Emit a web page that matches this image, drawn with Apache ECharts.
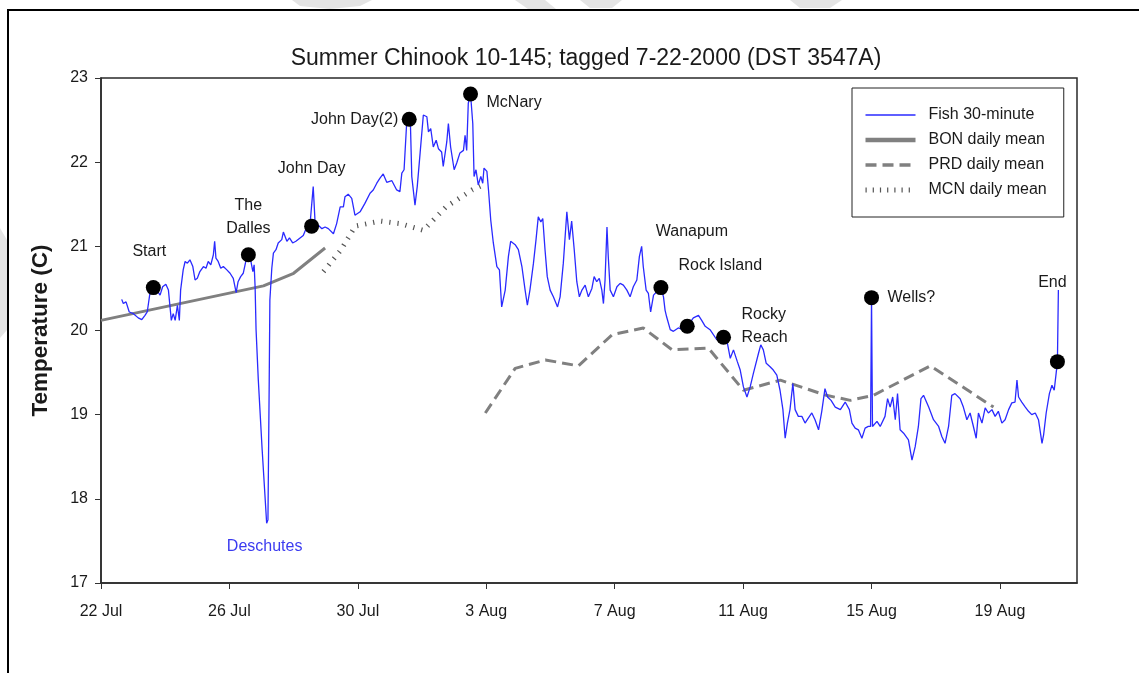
<!DOCTYPE html>
<html>
<head>
<meta charset="utf-8">
<title>Summer Chinook 10-145</title>
<script src="https://cdn.jsdelivr.net/npm/echarts@6/dist/echarts.min.js"></script>
<style>
  html, body { margin: 0; padding: 0; background: #fff; }
  #chart { width: 1139px; height: 673px; }
</style>
</head>
<body>
<div id="chart"></div>
<script>
// x values are days after 22 Jul 2000 00:00; y values are temperature in deg C

const tickLabels = ['22 Jul', '26 Jul', '30 Jul', '3 Aug', '7 Aug', '11 Aug', '15 Aug', '19 Aug'];

// Fish tag record, 30-minute readings [day, temp]
const fishTrack = [
  [0.645,20.37],[0.695,20.32],[0.78,20.34],[0.88,20.22],[1.01,20.20],[1.16,20.15],[1.27,20.13],[1.37,20.18],[1.44,20.22],[1.53,20.46],
  [1.63,20.51],[1.74,20.48],[1.84,20.42],[1.92,20.52],[2.02,20.55],[2.10,20.48],[2.15,20.28],[2.19,20.12],[2.25,20.20],[2.31,20.12],
  [2.38,20.30],[2.44,20.12],[2.48,20.48],[2.56,20.72],[2.62,20.82],[2.69,20.80],[2.77,20.84],[2.86,20.76],[2.93,20.60],[3.00,20.62],
  [3.08,20.70],[3.19,20.76],[3.27,20.74],[3.34,20.82],[3.42,20.78],[3.50,20.90],[3.54,21.06],[3.58,20.86],[3.65,20.82],[3.73,20.74],
  [3.81,20.76],[3.92,20.72],[4.02,20.68],[4.12,20.62],[4.21,20.45],[4.27,20.58],[4.35,20.64],[4.43,20.68],[4.52,20.84],[4.59,20.90],
  [4.66,20.84],[4.73,20.70],[4.77,20.78],[4.80,20.52],[4.83,20.01],[4.90,19.41],[5.02,18.58],[5.16,17.71],[5.20,17.75],[5.22,18.58],
  [5.24,19.41],[5.26,20.36],[5.32,20.74],[5.37,20.92],[5.45,20.96],[5.52,21.04],[5.63,21.08],[5.68,21.17],[5.79,21.06],[5.87,21.10],
  [5.97,21.04],[6.07,21.06],[6.20,21.10],[6.30,21.13],[6.41,21.23],[6.51,21.26],[6.57,21.24],[6.61,21.71],[6.67,21.27],[6.77,21.25],
  [6.88,21.21],[6.98,21.23],[7.08,21.21],[7.24,21.15],[7.34,21.27],[7.45,21.47],[7.55,21.47],[7.60,21.59],[7.70,21.62],[7.81,21.57],
  [7.91,21.37],[8.07,21.41],[8.22,21.51],[8.38,21.63],[8.48,21.67],[8.59,21.75],[8.69,21.81],[8.79,21.86],[8.90,21.76],[9.06,21.78],
  [9.21,21.67],[9.31,21.65],[9.37,21.87],[9.44,21.91],[9.52,22.46],[9.60,22.51],[9.64,22.42],[9.68,21.83],[9.78,21.49],[9.85,21.71],
  [9.94,22.11],[10.04,22.56],[10.15,22.54],[10.20,22.36],[10.27,22.40],[10.35,22.18],[10.44,22.26],[10.51,22.16],[10.61,22.12],[10.66,21.95],
  [10.77,22.24],[10.82,22.46],[10.89,22.18],[11.00,21.91],[11.08,21.99],[11.18,22.11],[11.29,22.14],[11.34,22.32],[11.39,22.14],[11.44,22.70],
  [11.51,22.81],[11.58,22.46],[11.62,21.83],[11.68,21.91],[11.75,21.73],[11.83,21.83],[11.89,21.75],[11.93,21.93],[12.02,21.89],[12.07,21.67],
  [12.14,21.31],[12.22,21.04],[12.33,20.76],[12.41,20.72],[12.48,20.28],[12.59,20.48],[12.69,20.88],[12.76,21.06],[12.90,21.02],[13.00,20.96],
  [13.11,20.76],[13.21,20.48],[13.28,20.30],[13.36,20.48],[13.47,20.80],[13.55,21.08],[13.62,21.35],[13.70,21.29],[13.76,21.33],[13.83,20.96],
  [13.90,20.64],[13.99,20.48],[14.09,20.40],[14.22,20.28],[14.30,20.40],[14.40,20.80],[14.51,21.41],[14.59,21.08],[14.66,21.30],[14.74,20.96],
  [14.82,20.58],[14.90,20.40],[14.98,20.48],[15.08,20.54],[15.18,20.40],[15.29,20.50],[15.36,20.64],[15.44,20.58],[15.52,20.62],[15.60,20.48],
  [15.65,20.32],[15.70,20.60],[15.76,21.23],[15.80,20.88],[15.86,20.48],[15.96,20.40],[16.07,20.52],[16.17,20.56],[16.27,20.54],[16.38,20.48],
  [16.48,20.40],[16.58,20.52],[16.69,20.60],[16.77,20.88],[16.84,21.00],[16.89,20.76],[16.98,20.48],[17.05,20.44],[17.12,20.22],[17.21,20.42],
  [17.31,20.46],[17.44,20.51],[17.52,20.40],[17.57,20.24],[17.62,20.16],[17.73,20.01],[17.83,19.99],[17.98,20.03],[18.14,20.01],[18.26,20.05],
  [18.45,20.15],[18.61,20.18],[18.71,20.12],[18.82,20.05],[18.97,20.01],[19.18,19.89],[19.39,19.92],[19.51,19.85],[19.60,19.67],[19.70,19.77],
  [19.82,19.63],[19.91,19.53],[20.01,19.33],[20.12,19.21],[20.22,19.33],[20.32,19.49],[20.48,19.73],[20.55,19.83],[20.63,19.77],[20.72,19.61],
  [20.84,19.57],[20.94,19.53],[21.05,19.47],[21.15,19.29],[21.24,19.06],[21.31,18.72],[21.38,18.90],[21.46,19.06],[21.55,19.37],[21.62,19.06],
  [21.72,18.98],[21.83,18.98],[21.93,18.90],[22.03,18.96],[22.14,19.02],[22.24,18.94],[22.35,18.82],[22.45,19.04],[22.55,19.31],[22.63,19.21],
  [22.74,19.17],[22.87,19.09],[23.03,19.06],[23.18,19.15],[23.31,19.06],[23.39,18.90],[23.49,18.84],[23.59,18.82],[23.70,18.72],[23.80,18.84],
  [23.90,18.86],[23.97,18.86],[24.00,20.39],[24.03,18.86],[24.17,18.92],[24.27,18.86],[24.42,18.98],[24.50,19.19],[24.58,19.09],[24.66,19.21],
  [24.74,18.94],[24.81,19.25],[24.89,18.82],[25.00,18.78],[25.15,18.70],[25.26,18.46],[25.36,18.62],[25.46,18.86],[25.54,19.19],[25.62,19.23],
  [25.78,19.09],[25.93,18.94],[26.09,18.86],[26.19,18.74],[26.29,18.66],[26.40,18.86],[26.50,19.23],[26.60,19.25],[26.76,19.19],[26.86,19.09],
  [26.97,18.94],[27.07,19.02],[27.16,18.88],[27.26,18.72],[27.33,19.02],[27.44,18.90],[27.54,19.08],[27.64,19.02],[27.75,19.06],[27.85,18.98],
  [27.95,19.04],[28.06,18.90],[28.16,18.94],[28.27,19.06],[28.37,19.14],[28.47,19.15],[28.53,19.41],[28.58,19.21],[28.68,19.15],[28.79,19.09],
  [28.89,19.04],[28.99,19.00],[29.10,19.02],[29.20,18.94],[29.31,18.66],[29.36,18.76],[29.44,19.02],[29.54,19.25],[29.62,19.35],[29.69,19.29],
  [29.75,19.49],[29.79,19.63],[29.82,20.48]
];

// Daily mean river temperatures at the dams [day, temp]
const bonDaily = [[0,20.12],[5.06,20.53],[6.0,20.68],[6.98,20.98]];
const prdDaily = [[11.97,19.02],[12.90,19.55],[13.84,19.65],[14.87,19.58],[15.92,19.95],[16.89,20.03],[17.79,19.77],
                  [18.92,19.79],[20.01,19.29],[21.16,19.41],[22.59,19.23],[23.34,19.17],[24.06,19.23],[25.83,19.58],[27.80,19.09]];
const mcnDaily = [[6.93,20.70],[7.48,20.96],[7.92,21.24],[8.70,21.30],[9.32,21.27],[10.04,21.19],[10.75,21.47],[11.56,21.67],[11.9,21.73]];

// Passage points along the migration
const siteNames = ['Start', 'The\nDalles', 'John Day', 'John Day(2)', 'McNary', 'Wanapum', 'Rock Island', 'Rocky\nReach', 'Wells?', 'End'];
const siteDay   = [1.63, 4.59, 6.56, 9.60, 11.51, 17.44, 18.26, 19.39, 24.00, 29.79];
const siteTemp  = [20.51, 20.90, 21.24, 22.51, 22.81, 20.51, 20.05, 19.92, 20.39, 19.63];

// Deschutes plume minimum
const deschutesName = 'Deschutes';
const deschutesPoint = [5.16, 17.71];

const FONT = '"Liberation Sans", Arial, sans-serif';
const TEXT = '#1a1a1a';

// label placement around each passage dot
const siteLabelLayout = {
  'Start':        { offset: [-4, -36] },
  'The\nDalles':  { offset: [0, -38] },
  'John Day':     { offset: [0, -58] },
  'John Day(2)':  { offset: [-11, 0], align: 'right' },
  'McNary':       { offset: [16, 9], align: 'left' },
  'Wanapum':      { offset: [31, -56] },
  'Rock Island':  { offset: [33, -61] },
  'Rocky\nReach': { offset: [18, -11], align: 'left' },
  'Wells?':       { offset: [16, 0], align: 'left' },
  'End':          { offset: [-5, -79] }
};

const siteData = siteNames.map((name, i) => {
  const lay = siteLabelLayout[name];
  return {
    name: name,
    value: [siteDay[i], siteTemp[i]],
    label: {
      show: true,
      position: 'inside',
      formatter: name,
      offset: lay.offset,
      align: lay.align || 'center',
      verticalAlign: 'middle',
      fontFamily: FONT,
      fontSize: 16,
      lineHeight: 23,
      color: TEXT
    }
  };
});

const tickValues = tickLabels.map((_, i) => i * 4);

// legend swatches, drawn a little heavier than the plotted lines
const legendSwatch = {
  'Fish 30-minute': { color: '#2a2aff', width: 1.5, type: 'solid' },
  'BON daily mean': { color: '#808080', width: 4.5, type: 'solid' },
  'PRD daily mean': { color: '#808080', width: 3.5, type: [11, 6] },
  'MCN daily mean': { color: '#555', width: 5, type: [1.2, 6] }
};

const chart = echarts.init(document.getElementById('chart'), null, { renderer: 'canvas' });

const option = {
  animation: false,
  backgroundColor: '#fff',
  textStyle: { fontFamily: FONT },
  title: {
    text: 'Summer Chinook 10-145; tagged 7-22-2000 (DST 3547A)',
    left: 581,
    top: 42,
    textAlign: 'center',
    textStyle: { fontFamily: FONT, fontSize: 23, fontWeight: 'normal', color: TEXT }
  },
  grid: {
    left: 101, right: 62, top: 78, bottom: 90,
    show: true, borderColor: '#2a2a2a', borderWidth: 1.5, backgroundColor: 'transparent'
  },
  legend: {
    orient: 'vertical',
    left: 852,
    top: 88,
    padding: [19, 17, 19, 11],
    itemGap: 9,
    itemWidth: 50,
    itemHeight: 14,
    borderColor: '#222',
    borderWidth: 1,
    backgroundColor: '#fff',
    itemStyle: { opacity: 0 },
    lineStyle: { width: 'inherit', type: 'inherit' },
    data: Object.keys(legendSwatch).map(name => ({
      name: name,
      lineStyle: {
        color: legendSwatch[name].color,
        width: legendSwatch[name].width,
        type: legendSwatch[name].type,
        cap: 'butt'
      }
    })),
    textStyle: { fontFamily: FONT, fontSize: 16, color: TEXT, padding: [0, 0, 0, 8] }
  },
  xAxis: {
    type: 'value',
    min: 0,
    max: 30.4,
    interval: 4,
    axisLine: { show: true, onZero: false, lineStyle: { color: '#2a2a2a', width: 1.5 } },
    axisTick: { show: true, length: 6, customValues: tickValues, lineStyle: { color: '#333' } },
    axisLabel: {
      customValues: tickValues,
      margin: 21,
      fontFamily: FONT, fontSize: 16, color: TEXT,
      formatter: v => tickLabels[Math.round(v / 4)] || ''
    },
    splitLine: { show: false }
  },
  yAxis: {
    type: 'value',
    min: 17,
    max: 23,
    interval: 1,
    name: 'Temperature (C)',
    nameLocation: 'middle',
    nameGap: 49,
    nameRotate: 90,
    nameTextStyle: { fontFamily: FONT, fontSize: 22.5, fontWeight: 'bold', color: TEXT },
    axisLine: { show: true, onZero: false, lineStyle: { color: '#2a2a2a', width: 1.5 } },
    axisTick: { show: true, length: 6, lineStyle: { color: '#333' } },
    axisLabel: { margin: 13, fontFamily: FONT, fontSize: 16, color: TEXT },
    splitLine: { show: false }
  },
  series: [
    {
      name: 'Fish 30-minute',
      type: 'line',
      data: fishTrack,
      symbol: 'none',
      z: 4,
      itemStyle: { color: '#2a2aff' },
      lineStyle: { color: '#2a2aff', width: 1.3 }
    },
    {
      name: 'BON daily mean',
      type: 'line',
      data: bonDaily,
      symbol: 'none',
      z: 3,
      itemStyle: { color: '#808080' },
      lineStyle: { color: '#808080', width: 3 }
    },
    {
      name: 'PRD daily mean',
      type: 'line',
      data: prdDaily,
      symbol: 'none',
      z: 3,
      itemStyle: { color: '#808080' },
      lineStyle: { color: '#808080', width: 3, type: [11, 6] }
    },
    {
      name: 'MCN daily mean',
      type: 'line',
      data: mcnDaily,
      symbol: 'none',
      z: 3,
      itemStyle: { color: '#555' },
      lineStyle: { color: '#555', width: 5, type: [1.2, 7], cap: 'butt' }
    },
    {
      name: 'sites',
      type: 'scatter',
      data: siteData,
      symbol: 'circle',
      symbolSize: 15,
      z: 6,
      itemStyle: { color: '#000', opacity: 1 }
    },
    {
      name: 'plume',
      type: 'scatter',
      data: [{
        name: deschutesName,
        value: deschutesPoint,
        label: {
          show: true, position: 'inside', offset: [-2, 23],
          formatter: deschutesName,
          fontFamily: FONT, fontSize: 16, color: '#3b3bf0'
        }
      }],
      symbolSize: 1,
      itemStyle: { color: 'rgba(0,0,0,0)', opacity: 1 },
      z: 6
    }
  ],
  graphic: [
    // faint background shapes in the outer margin
    { type: 'polygon', z: -10, shape: { points: [[292,0],[372,0],[360,6],[330,9],[300,6]] }, style: { fill: '#e4e4e4' } },
    { type: 'polygon', z: -10, shape: { points: [[515,0],[545,0],[556,9],[528,9]] }, style: { fill: '#e4e4e4' } },
    { type: 'polygon', z: -10, shape: { points: [[580,0],[622,0],[612,8],[590,8]] }, style: { fill: '#e4e4e4' } },
    { type: 'polygon', z: -10, shape: { points: [[790,0],[842,0],[830,8],[800,8]] }, style: { fill: '#e4e4e4' } },
    { type: 'polygon', z: -10, shape: { points: [[0,228],[7,240],[7,330],[0,338]] }, style: { fill: '#e4e4e4' } },
    // figure frame
    { type: 'line', z: 10, shape: { x1: 7, y1: 10, x2: 1139, y2: 10 }, style: { stroke: '#000', lineWidth: 2 } },
    { type: 'line', z: 10, shape: { x1: 8, y1: 10, x2: 8, y2: 673 }, style: { stroke: '#000', lineWidth: 2 } }
  ]
};

chart.setOption(option);
</script>
</body>
</html>
